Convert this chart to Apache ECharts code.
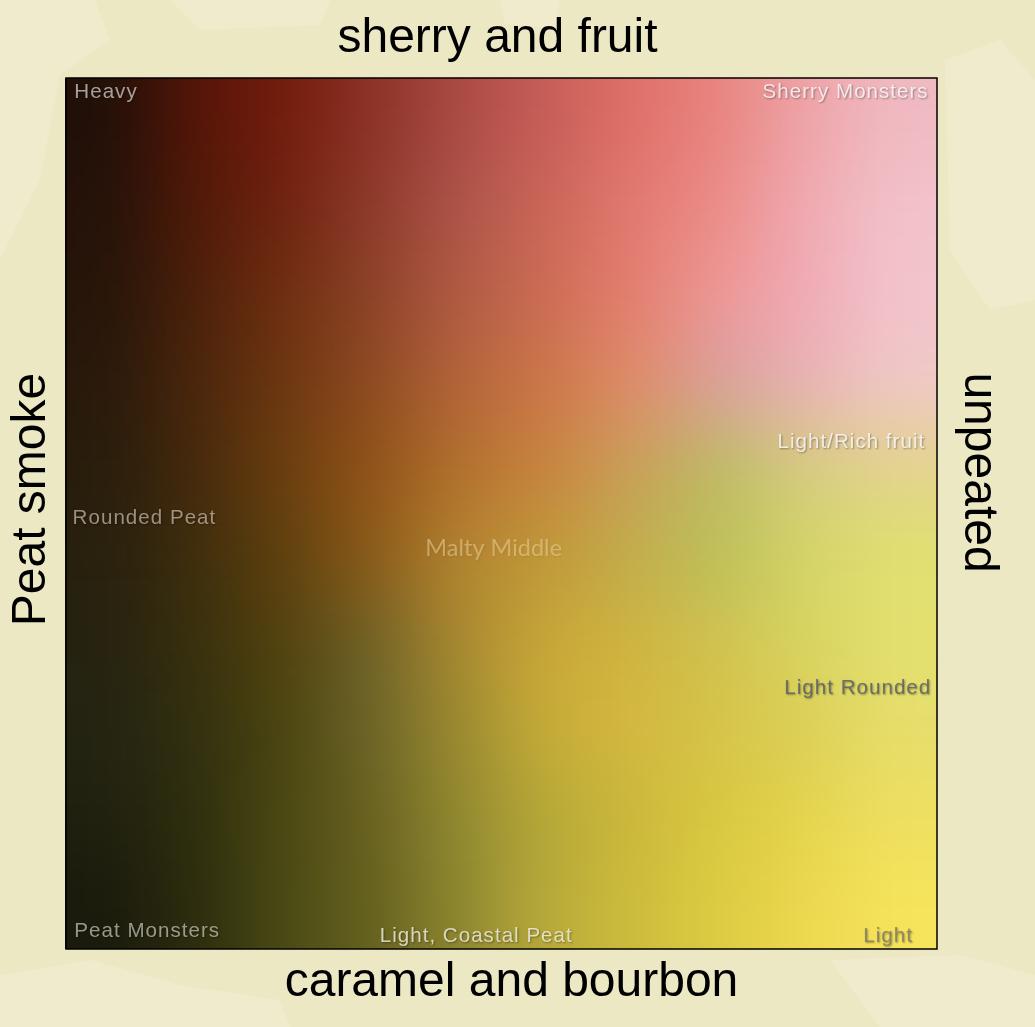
<!DOCTYPE html>
<html><head><meta charset="utf-8">
<script src="https://cdn.jsdelivr.net/npm/echarts@6/dist/echarts.min.js"></script>
<style>
html,body{margin:0;padding:0;background:#ece8c4;width:1035px;height:1027px;overflow:hidden;}
#fieldWrap{position:absolute;left:65px;top:78px;width:872px;height:871px;overflow:hidden;}
#field{position:absolute;filter:blur(38px);}
#main{position:absolute;left:0;top:0;width:1035px;height:1027px;}
</style></head><body>
<div id="fieldWrap"><div id="field"></div></div>
<div id="main"></div>
<script>
// ---- colour field: 10 x 10 control colours (top row first, left to right) ----
const fieldColumns = ['c0','c1','c2','c3','c4','c5','c6','c7','c8','c9'];
const fieldRows    = ['r0','r1','r2','r3','r4','r5','r6','r7','r8','r9'];
const colorsRow0 = ['#201008','#561508','#721c0c','#8c3226','#aa4a44','#c65e58','#e07068','#e88480','#eea4a8','#f0bac2'];
const colorsRow1 = ['#241209','#501a08','#70220e','#8c3a2a','#ae544a','#ca6658','#e27a70','#ec8c88','#f0aab2','#f2c2ca'];
const colorsRow2 = ['#261509','#4c200a','#6e2e10','#8c4228','#b05a44','#cc6c54','#e47e70','#ee9896','#f0aab6','#f2c4cc'];
const colorsRow3 = ['#28190b','#4a260c','#6c3610','#8e4a20','#b2643a','#cc7648','#e08c68','#d8a09e','#e8b2b6','#f0c8c8'];
const colorsRow4 = ['#281d0c','#46290c','#6a3e0e','#905218','#b2702c','#c8843e','#c8a05a','#bcbc62','#d6cc80','#e2d48c'];
const colorsRow5 = ['#28200e','#3e2e0c','#5e400e','#8a5a18','#b28430','#c09838','#c2ae4c','#bcc05a','#d4d468','#e0e070'];
const colorsRow6 = ['#262210','#38300e','#52420e','#6e6228','#a88830','#c8a838','#d0b440','#d0c250','#d8d460','#e4e070'];
const colorsRow7 = ['#242412','#323010','#4a4410','#6c6428','#9a8a30','#c8ac38','#d4b840','#d6c448','#dccf58','#e6de6c'];
const colorsRow8 = ['#20200f','#2e2e0e','#4a4812','#686020','#908830','#b4a838','#ccb83a','#d8c840','#e4d44c','#eedf60'];
const colorsRow9 = ['#1a1a0d','#2c2c0e','#4a4a14','#64601e','#8c8630','#b8aa3a','#ccbc3c','#dccc42','#eed850','#f6e45c'];
const fieldColors = [colorsRow0,colorsRow1,colorsRow2,colorsRow3,colorsRow4,colorsRow5,colorsRow6,colorsRow7,colorsRow8,colorsRow9];

// ---- region labels (value coordinates, 0..10 on both axes) ----
const regionNames = ['Heavy','Sherry Monsters','Light/Rich fruit','Rounded Peat','Malty Middle','Light Rounded','Peat Monsters','Light, Coastal Peat','Light'];
const regionX     = [0.09, 9.91, 9.87, 0.07, 4.91, 9.94, 0.09, 4.71, 9.73];
const regionY     = [9.83, 9.83, 5.82, 4.95, 4.60, 2.99, 0.20, 0.15, 0.15];

// ---- axis titles ----
const titleBottom = 'caramel and bourbon';
const titleTop    = 'sherry and fruit';
const titleLeft   = 'Peat smoke';
const titleRight  = 'unpeated';

// ---------------- styles ----------------
const LABEL_SIZE = 20.6;
const regionStyles = [
  {pos:'right', color:'#cbc4bf'},
  {pos:'left',  color:'#ffffff'},
  {pos:'left',  color:'#ffffff'},
  {pos:'right', color:'#bbad9b'},
  {pos:'inside',color:'rgba(232,206,148,0.72)', font:'Lato', size:23.5, shadow:'rgba(0,0,0,0.12)'},
  {pos:'left',  color:'#555b69'},
  {pos:'right', color:'#bab8a8'},
  {pos:'inside',color:'#f4f2e2'},
  {pos:'left',  color:'#7e7a6a'}
];

// letter spacing for the small region labels (PowerPoint-like tracking)
(function () {
  const proto = CanvasRenderingContext2D.prototype;
  const orig = proto.fillText;
  proto.fillText = function (t, x, y, m) {
    if ('letterSpacing' in this) this.letterSpacing = (String(this.font).indexOf(LABEL_SIZE + 'px') >= 0) ? '1px' : '0px';
    return m === undefined ? orig.call(this, t, x, y) : orig.call(this, t, x, y, m);
  };
})();

// ---------------- blurred colour field ----------------
const PAD = 2;
const plotW = 872, plotH = 871;
const cellW = plotW / fieldColumns.length, cellH = plotH / fieldRows.length;
const fieldEl = document.getElementById('field');
fieldEl.style.left = (-PAD * cellW) + 'px';
fieldEl.style.top = (-PAD * cellH) + 'px';
fieldEl.style.width = (plotW + 2 * PAD * cellW) + 'px';
fieldEl.style.height = (plotH + 2 * PAD * cellH) + 'px';

const nC = fieldColumns.length, nR = fieldRows.length;
const xCats = [], yCats = [];
for (let i = -PAD; i < nC + PAD; i++) xCats.push(String(i));
for (let j = -PAD; j < nR + PAD; j++) yCats.push(String(j));
const clamp = (v, n) => Math.max(0, Math.min(n - 1, v));
const heatData = [];
for (let j = -PAD; j < nR + PAD; j++) {
  for (let i = -PAD; i < nC + PAD; i++) {
    const c = fieldColors[clamp(j, nR)][clamp(i, nC)];
    heatData.push({value: [i + PAD, j + PAD, 1], itemStyle: {color: c, borderColor: c, borderWidth: 1}});
  }
}
const heat = echarts.init(fieldEl, null, {renderer: 'canvas'});
heat.setOption({
  animation: false,
  grid: {left: 0, right: 0, top: 0, bottom: 0},
  xAxis: {type: 'category', data: xCats, show: false},
  yAxis: {type: 'category', data: yCats, show: false, inverse: true},
  series: [{type: 'heatmap', data: heatData, silent: true, progressive: 0, emphasis: {disabled: true}}]
});

// ---------------- main chart: frame, titles, labels ----------------
const axisCommon = {
  type: 'value', min: 0, max: 10, nameLocation: 'middle',
  axisLine: {show: false}, axisTick: {show: false}, axisLabel: {show: false}, splitLine: {show: false}
};
const titleFont = (pad) => ({fontSize: 48, fontFamily: 'Liberation Sans', color: '#000', padding: pad});
const labelData = regionNames.map((n, k) => {
  const s = regionStyles[k];
  return {
    name: n, value: [regionX[k], regionY[k]],
    label: {
      show: true, formatter: '{b}', position: s.pos, distance: 0,
      color: s.color, fontSize: s.size || LABEL_SIZE, fontFamily: s.font || 'Liberation Sans',
      textShadowColor: s.shadow || 'rgba(0,0,0,0.45)', textShadowBlur: 2, textShadowOffsetX: 1, textShadowOffsetY: 1
    }
  };
});
const blot = 'rgba(247,245,226,0.28)';
const main = echarts.init(document.getElementById('main'), null, {renderer: 'canvas'});
main.setOption({
  animation: false,
  backgroundColor: 'transparent',
  graphic: [
    {type: 'polygon', silent: true, z: -10, shape: {points: [[0,0],[95,0],[110,40],[60,75],[40,180],[0,260]]}, style: {fill: blot}},
    {type: 'polygon', silent: true, z: -10, shape: {points: [[170,0],[330,0],[320,25],[200,30]]}, style: {fill: blot}},
    {type: 'polygon', silent: true, z: -10, shape: {points: [[500,0],[560,0],[555,28],[505,24]]}, style: {fill: blot}},
    {type: 'polygon', silent: true, z: -10, shape: {points: [[945,60],[1000,40],[1035,80],[1035,300],[990,310],[950,250]]}, style: {fill: blot}},
    {type: 'polygon', silent: true, z: -10, shape: {points: [[0,975],[90,960],[180,985],[280,1000],[290,1027],[0,1027]]}, style: {fill: blot}},
    {type: 'polygon', silent: true, z: -10, shape: {points: [[830,960],[960,955],[1035,975],[1035,1027],[880,1027]]}, style: {fill: blot}}
  ],
  grid: {left: 65, top: 78, width: 872, height: 871, show: true, borderColor: '#000', borderWidth: 1.5, backgroundColor: 'transparent'},
  xAxis: [
    Object.assign({}, axisCommon, {position: 'bottom', name: titleBottom, nameGap: 10, nameTextStyle: titleFont([0,0,0,20])}),
    Object.assign({}, axisCommon, {position: 'top', name: titleTop, nameGap: 15, nameTextStyle: titleFont([0,8,0,0])})
  ],
  yAxis: [
    Object.assign({}, axisCommon, {position: 'left', name: titleLeft, nameGap: 10, nameTextStyle: titleFont([0,0,0,28])}),
    Object.assign({}, axisCommon, {position: 'right', name: titleRight, nameGap: 17, nameRotate: -90, nameTextStyle: titleFont([0,82,0,0])})
  ],
  series: [{
    type: 'scatter', silent: true, symbolSize: 1, itemStyle: {color: 'rgba(0,0,0,0)'},
    data: labelData
  }]
});
</script>
</body></html>
